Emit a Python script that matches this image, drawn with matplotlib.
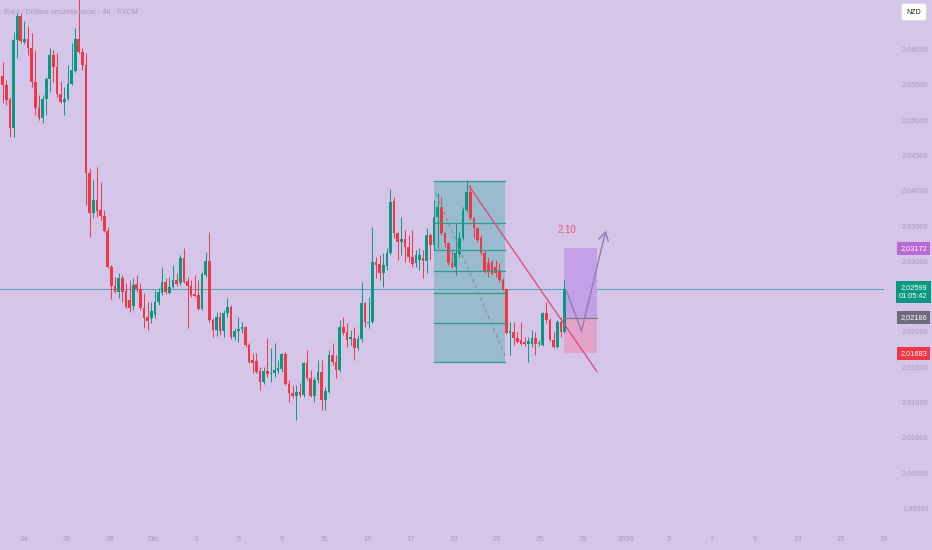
"""EUR/NZD 4h candles with fib box, trendline and long-position sketch."""
import matplotlib
matplotlib.use("Agg")
import matplotlib.pyplot as plt
from matplotlib.patches import Rectangle
import numpy as np

# ---- data (prices) ----
opens = [
    2.0561, 2.0548, 2.0528, 2.0487, 2.0612, 2.0646, 2.0609, 2.0613, 2.0601, 2.0553,
    2.0516, 2.0502, 2.0528, 2.0557, 2.0591, 2.0574, 2.0536, 2.0524, 2.0528, 2.0550,
    2.0568, 2.0613, 2.0595, 2.0577, 2.0424, 2.0367, 2.0386, 2.0371, 2.0363, 2.0342,
    2.0291, 2.0264, 2.0255, 2.0275, 2.0257, 2.0244, 2.0235, 2.0267, 2.0259, 2.0233,
    2.0220, 2.0218, 2.0223, 2.0241, 2.0254, 2.0269, 2.0254, 2.0262, 2.0272, 2.0268,
    2.0303, 2.0271, 2.0264, 2.0252, 2.0251, 2.0231, 2.0279, 2.0299, 2.0216, 2.0201,
    2.0220, 2.0200, 2.0225, 2.0234, 2.0191, 2.0200, 2.0203, 2.0206, 2.0180, 2.0159,
    2.0157, 2.0143, 2.0128, 2.0143, 2.0139, 2.0140, 2.0143, 2.0146, 2.0167, 2.0125,
    2.0112, 2.0108, 2.0114, 2.0109, 2.0155, 2.0133, 2.0108, 2.0131, 2.0142, 2.0102,
    2.0114, 2.0166, 2.0156, 2.0145, 2.0206, 2.0199, 2.0189, 2.0190, 2.0176, 2.0189,
    2.0240, 2.0211, 2.0213, 2.0298, 2.0295, 2.0282, 2.0292, 2.0310, 2.0384, 2.0339,
    2.0326, 2.0330, 2.0319, 2.0305, 2.0296, 2.0301, 2.0303, 2.0299, 2.0336, 2.0322,
    2.0361, 2.0376, 2.0339, 2.0325, 2.0296, 2.0291, 2.0309, 2.0332, 2.0371, 2.0397,
    2.0360, 2.0346, 2.0332, 2.0310, 2.0296, 2.0298, 2.0291, 2.0286, 2.0272, 2.0259,
    2.0197, 2.0199, 2.0190, 2.0187, 2.0184, 2.0182, 2.0182, 2.0190, 2.0181, 2.0180,
    2.0225, 2.0216, 2.0187, 2.0177, 2.0213, 2.0199,
]
highs = [
    2.0581, 2.0555, 2.0531, 2.0623, 2.0650, 2.0650, 2.0639, 2.0632, 2.0622, 2.0598,
    2.0534, 2.0534, 2.0560, 2.0601, 2.0598, 2.0594, 2.0554, 2.0546, 2.0577, 2.0608,
    2.0629, 2.0683, 2.0601, 2.0594, 2.0431, 2.0414, 2.0432, 2.0411, 2.0371, 2.0347,
    2.0293, 2.0276, 2.0282, 2.0279, 2.0268, 2.0272, 2.0275, 2.0279, 2.0268, 2.0254,
    2.0241, 2.0241, 2.0258, 2.0261, 2.0291, 2.0275, 2.0276, 2.0293, 2.0282, 2.0308,
    2.0317, 2.0276, 2.0272, 2.0279, 2.0272, 2.0284, 2.0312, 2.0340, 2.0218, 2.0227,
    2.0227, 2.0230, 2.0247, 2.0237, 2.0204, 2.0220, 2.0213, 2.0207, 2.0183, 2.0169,
    2.0169, 2.0149, 2.0149, 2.0190, 2.0176, 2.0183, 2.0159, 2.0169, 2.0170, 2.0131,
    2.0123, 2.0123, 2.0126, 2.0156, 2.0173, 2.0145, 2.0135, 2.0159, 2.0159, 2.0121,
    2.0173, 2.0183, 2.0166, 2.0216, 2.0220, 2.0211, 2.0201, 2.0206, 2.0194, 2.0269,
    2.0241, 2.0248, 2.0347, 2.0305, 2.0308, 2.0310, 2.0317, 2.0401, 2.0390, 2.0340,
    2.0361, 2.0343, 2.0336, 2.0343, 2.0315, 2.0317, 2.0315, 2.0346, 2.0339, 2.0386,
    2.0395, 2.0390, 2.0340, 2.0326, 2.0315, 2.0353, 2.0340, 2.0376, 2.0414, 2.0407,
    2.0361, 2.0347, 2.0336, 2.0315, 2.0305, 2.0301, 2.0301, 2.0296, 2.0275, 2.0261,
    2.0213, 2.0213, 2.0199, 2.0213, 2.0191, 2.0191, 2.0201, 2.0199, 2.0187, 2.0227,
    2.0241, 2.0218, 2.0199, 2.0216, 2.0220, 2.0272,
]
lows = [
    2.0523, 2.0520, 2.0475, 2.0475, 2.0587, 2.0608, 2.0606, 2.0591, 2.0546, 2.0506,
    2.0499, 2.0494, 2.0506, 2.0538, 2.0553, 2.0531, 2.0523, 2.0506, 2.0527, 2.0548,
    2.0567, 2.0594, 2.0570, 2.0378, 2.0333, 2.0360, 2.0361, 2.0357, 2.0340, 2.0289,
    2.0245, 2.0254, 2.0247, 2.0241, 2.0233, 2.0227, 2.0230, 2.0255, 2.0230, 2.0204,
    2.0201, 2.0211, 2.0218, 2.0237, 2.0251, 2.0252, 2.0252, 2.0261, 2.0264, 2.0265,
    2.0268, 2.0204, 2.0248, 2.0248, 2.0230, 2.0230, 2.0276, 2.0213, 2.0191, 2.0193,
    2.0194, 2.0191, 2.0220, 2.0189, 2.0187, 2.0184, 2.0197, 2.0177, 2.0155, 2.0140,
    2.0140, 2.0116, 2.0125, 2.0135, 2.0128, 2.0135, 2.0140, 2.0142, 2.0123, 2.0099,
    2.0105, 2.0074, 2.0106, 2.0106, 2.0131, 2.0106, 2.0099, 2.0126, 2.0088, 2.0088,
    2.0112, 2.0152, 2.0133, 2.0142, 2.0194, 2.0177, 2.0180, 2.0159, 2.0173, 2.0184,
    2.0206, 2.0204, 2.0211, 2.0275, 2.0272, 2.0262, 2.0286, 2.0308, 2.0332, 2.0301,
    2.0308, 2.0298, 2.0298, 2.0291, 2.0291, 2.0286, 2.0275, 2.0282, 2.0301, 2.0315,
    2.0317, 2.0336, 2.0319, 2.0293, 2.0289, 2.0279, 2.0305, 2.0329, 2.0369, 2.0357,
    2.0332, 2.0326, 2.0308, 2.0282, 2.0276, 2.0279, 2.0276, 2.0269, 2.0258, 2.0196,
    2.0166, 2.0180, 2.0183, 2.0180, 2.0179, 2.0156, 2.0177, 2.0166, 2.0179, 2.0179,
    2.0211, 2.0186, 2.0176, 2.0176, 2.0191, 2.0197,
]
closes = [
    2.0548, 2.0527, 2.0487, 2.0612, 2.0646, 2.0611, 2.0613, 2.0601, 2.0553, 2.0516,
    2.0502, 2.0528, 2.0557, 2.0591, 2.0574, 2.0536, 2.0524, 2.0528, 2.0550, 2.0570,
    2.0613, 2.0595, 2.0577, 2.0424, 2.0367, 2.0386, 2.0370, 2.0363, 2.0342, 2.0291,
    2.0264, 2.0255, 2.0275, 2.0255, 2.0234, 2.0233, 2.0265, 2.0259, 2.0233, 2.0218,
    2.0214, 2.0228, 2.0241, 2.0255, 2.0269, 2.0255, 2.0262, 2.0272, 2.0267, 2.0303,
    2.0269, 2.0264, 2.0251, 2.0250, 2.0231, 2.0281, 2.0299, 2.0216, 2.0201, 2.0220,
    2.0200, 2.0225, 2.0234, 2.0191, 2.0200, 2.0203, 2.0206, 2.0180, 2.0156, 2.0155,
    2.0142, 2.0128, 2.0143, 2.0139, 2.0140, 2.0145, 2.0148, 2.0167, 2.0125, 2.0112,
    2.0108, 2.0114, 2.0109, 2.0155, 2.0133, 2.0108, 2.0131, 2.0142, 2.0102, 2.0115,
    2.0166, 2.0156, 2.0145, 2.0206, 2.0197, 2.0187, 2.0191, 2.0176, 2.0189, 2.0240,
    2.0213, 2.0213, 2.0298, 2.0293, 2.0282, 2.0293, 2.0310, 2.0383, 2.0339, 2.0326,
    2.0330, 2.0319, 2.0305, 2.0295, 2.0308, 2.0308, 2.0299, 2.0336, 2.0322, 2.0361,
    2.0376, 2.0339, 2.0325, 2.0296, 2.0291, 2.0310, 2.0332, 2.0371, 2.0397, 2.0360,
    2.0346, 2.0329, 2.0310, 2.0284, 2.0284, 2.0281, 2.0282, 2.0272, 2.0259, 2.0197,
    2.0200, 2.0190, 2.0184, 2.0182, 2.0182, 2.0186, 2.0190, 2.0182, 2.0183, 2.0225,
    2.0216, 2.0187, 2.0177, 2.0213, 2.0199, 2.02599,
]

time_labels = ["24", "26", "28", "Dic", "3", "5", "9", "11", "15", "17", "19",
               "23", "25", "29", "2026", "5", "7", "9", "13", "15", "19"]
# 2,02500 sits under the last-price tag on the scale, so it is not listed
price_ticks = [1.995, 2.000, 2.005, 2.010, 2.015, 2.020, 2.030,
               2.035, 2.040, 2.045, 2.050, 2.055, 2.060]

last_price = 2.02599
countdown = "01:05:42"
# fib retracement drawn over the pullback
fib_top, fib_bottom = 2.0413, 2.0156
fib_x = (118.9, 138.7)
fib_levels = [0, 0.236, 0.382, 0.5, 0.618, 0.786, 1]
fib_diag_x = [119.5, 138.7]
fib_diag_y = [2.0395, 2.0164]
# descending trendline
trend_x = [128.7, 163.9]
trend_y = [2.0405, 2.0143]
# long position tool
pos_x = (154.9, 163.9)
target, entry, stop = 2.03172, 2.02186, 2.01683
# projected path
path_x = [155.6, 159.7, 166.4]
path_y = [2.0256, 2.0200, 2.0342]
target_note = "2.10"

BG = "#d4c5e9"
UP = "#089981"
DOWN = "#f23645"
FAINT = "#a99dbb"


def fmt(p):
    return f"{p:.5f}".replace(".", ",")


plt.rcParams["font.family"] = ["Liberation Sans", "DejaVu Sans"]

fig = plt.figure(figsize=(9.32, 5.5), dpi=100, facecolor=BG)
ax = fig.add_axes([0, 1 - 522 / 550, 884 / 932, 522 / 550])
ax.set_facecolor(BG)
for s in ax.spines.values():
    s.set_visible(False)

o = np.array(opens)
h = np.array(highs)
l = np.array(lows)
c = np.array(closes)
idx = np.arange(len(o))
colors = np.where(c >= o, UP, DOWN)

ax.vlines(idx, l, h, colors=colors, lw=0.7, zorder=3)
body = np.maximum(np.abs(c - o), 0.00009)
ax.bar(idx, body, bottom=np.minimum(o, c), width=0.74, color=colors,
       linewidth=0, zorder=4)

# last price line
ax.axhline(last_price, color="#4fa2b8", lw=0.7, zorder=2)

# fib box
ax.add_patch(Rectangle((fib_x[0], fib_bottom), fib_x[1] - fib_x[0],
                       fib_top - fib_bottom, facecolor="#5fb2b2", alpha=0.5,
                       edgecolor="none", zorder=2))
for lv in fib_levels:
    yv = fib_top - lv * (fib_top - fib_bottom)
    ax.plot(fib_x, [yv, yv], color="#2f9a88", lw=0.9, zorder=5)
ax.plot(fib_diag_x, fib_diag_y, color="#8a8a9e", lw=0.8, ls=(0, (3, 3)),
        zorder=5)

# long position
ax.add_patch(Rectangle((pos_x[0], entry), pos_x[1] - pos_x[0], target - entry,
                       facecolor="#c3a0e8", edgecolor="none", zorder=2))
ax.add_patch(Rectangle((pos_x[0], stop), pos_x[1] - pos_x[0], entry - stop,
                       facecolor="#e4a3c9", edgecolor="none", zorder=2))
ax.plot(pos_x, [entry, entry], color="#7c7488", lw=0.8, zorder=5)

# trendline
ax.plot(trend_x, trend_y, color="#e3427a", lw=0.9, zorder=6)

# projected path with arrow
ax.plot(path_x[:2], path_y[:2], color="#8f7faf", lw=1.0, zorder=6)
ax.annotate("", xy=(path_x[2], path_y[2]), xytext=(path_x[1], path_y[1]),
            arrowprops=dict(arrowstyle="->,head_length=0.6,head_width=0.35",
                            color="#8f7faf", lw=1.0, shrinkA=0, shrinkB=0),
            zorder=6)
ax.text(path_x[0], 2.0343, target_note, color="#ef5a6f", fontsize=7,
        ha="center", va="center", zorder=6)

ax.set_xlim(-0.74, 241.8)
ax.set_ylim(1.99295, 2.06687)

tick_idx = 5.84 + 11.866 * np.arange(len(time_labels))
ax.set_xticks(tick_idx)
ax.set_xticklabels(time_labels)
ax.tick_params(axis="x", length=0, pad=10, labelsize=5.5, labelcolor=FAINT)

ax.yaxis.tick_right()
ax.set_yticks(price_ticks)
ax.set_yticklabels([fmt(p) for p in price_ticks])
ax.tick_params(axis="y", length=0, pad=13, labelsize=5.3, labelcolor=FAINT)

# price tags on the right scale
ytr = ax.get_yaxis_transform()
lx = 913.5 / 884
for yv, fc in [(target, "#b968d6"), (entry, "#6f6a7c"), (stop, "#f23645")]:
    ax.text(lx, yv, fmt(yv), transform=ytr, ha="center", va="center",
            fontsize=5.3, color="white", clip_on=False, zorder=10,
            bbox=dict(boxstyle="square,pad=0.4", fc=fc, ec="none"))
ax.annotate(fmt(last_price) + "\n" + countdown, xy=(lx, last_price),
            xycoords=ytr, xytext=(0, 3.5), textcoords="offset points",
            ha="center", va="top", fontsize=5.3, color="white",
            linespacing=1.35, annotation_clip=False, zorder=10,
            bbox=dict(boxstyle="square,pad=0.4", fc=UP, ec="none"))

# currency box and title
fig.text(914 / 932, 1 - 12 / 550, "NZD", ha="center", va="center",
         fontsize=5, color="#222222",
         bbox=dict(boxstyle="round,pad=0.7,rounding_size=0.3", fc="white",
                   ec="#e0e0e0", lw=0.5))
fig.text(4 / 932, 1 - 12 / 550, "Euro / Dollaro neozelandese · 4h · FXCM",
         ha="left", va="center", fontsize=5.3, color=FAINT)

fig.savefig("out.png", dpi=100, facecolor=BG)
plt.close(fig)
